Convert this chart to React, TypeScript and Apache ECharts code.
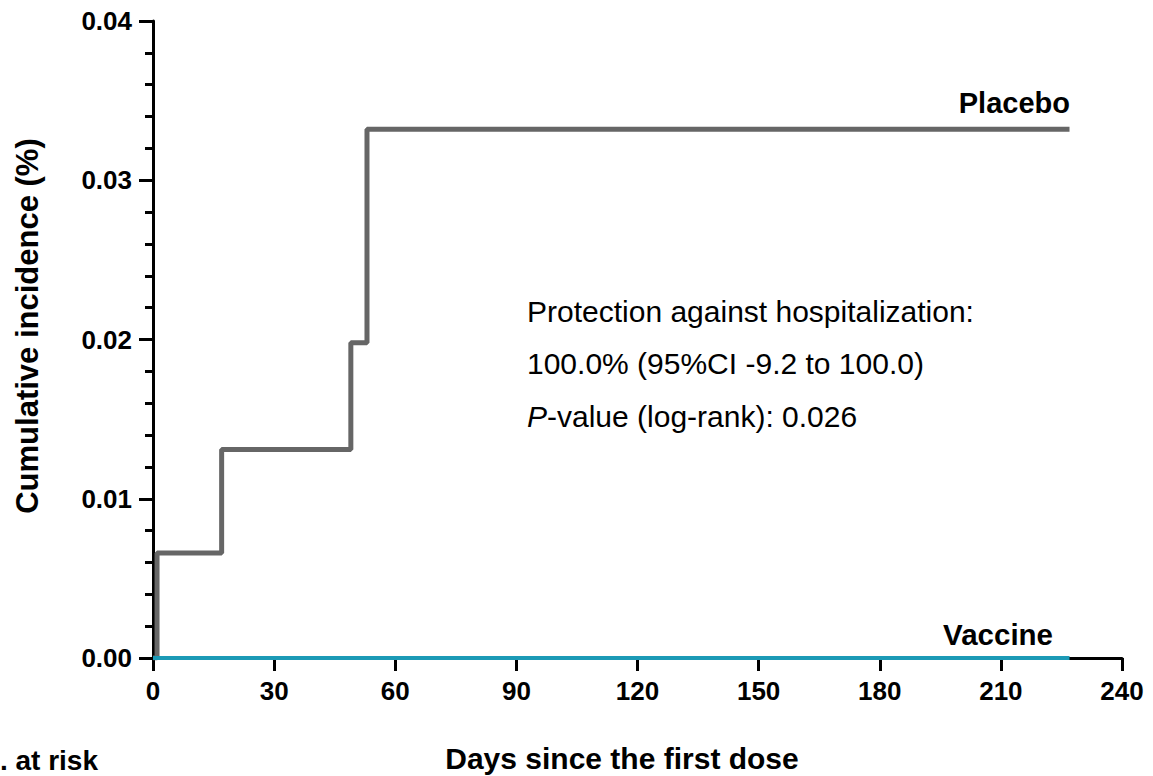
import React, { useEffect, useRef } from "react";
import * as echarts from "echarts";

// ---- data ----
const eventDays = [0, 1, 17, 49, 53, 227];
const placeboIncidence = [0, 0.0066, 0.0131, 0.0198, 0.0332, 0.0332];
const vaccineDays = [0, 227];
const vaccineIncidence = [0, 0];
const seriesNames = ["Placebo", "Vaccine"];
const xRange = { min: 0, max: 240, interval: 30 };
const yRange = { min: 0, max: 0.04, interval: 0.01 };
const annotationLines = [
  "Protection against hospitalization:",
  "100.0% (95%CI -9.2 to 100.0)",
  "{i|P}-value (log-rank): 0.026",
];
const xTitle = "Days since the first dose";
const yTitle = "Cumulative incidence (%)";
const riskLabel = "No. at risk";

const FONT = "'Liberation Sans', Arial, Helvetica, sans-serif";

export default function App() {
  const ref = useRef<HTMLDivElement>(null);
  useEffect(() => {
    if (!ref.current) return;
    const chart = echarts.init(ref.current, null, { renderer: "svg" });
    const placeboData = eventDays.map((d, i) => [d, placeboIncidence[i]]);
    const vaccineData = vaccineDays.map((d, i) => [d, vaccineIncidence[i]]);
    chart.setOption({
      animation: false,
      backgroundColor: "#ffffff",
      textStyle: { fontFamily: FONT },
      grid: { left: 153, right: 31, top: 21, bottom: 118, containLabel: false },
      xAxis: {
        type: "value",
        min: xRange.min,
        max: xRange.max,
        interval: xRange.interval,
        axisLine: { show: true, lineStyle: { color: "#000", width: 3 } },
        axisTick: { show: true, length: 13, lineStyle: { color: "#000", width: 3 } },
        axisLabel: {
          margin: 20,
          color: "#000",
          fontSize: 26,
          fontWeight: "bold",
          fontFamily: FONT,
        },
        splitLine: { show: false },
      },
      yAxis: {
        type: "value",
        min: yRange.min,
        max: yRange.max,
        interval: yRange.interval,
        axisLine: { show: true, lineStyle: { color: "#000", width: 3 } },
        axisTick: { show: true, length: 14, lineStyle: { color: "#000", width: 3 } },
        minorTick: { show: true, splitNumber: 5, length: 8, lineStyle: { color: "#000", width: 3 } },
        axisLabel: {
          margin: 21,
          color: "#000",
          fontSize: 26,
          fontWeight: "bold",
          fontFamily: FONT,
          formatter: (v: number) => v.toFixed(2),
        },
        splitLine: { show: false },
        minorSplitLine: { show: false },
      },
      series: [
        {
          name: seriesNames[0],
          type: "line",
          step: "end",
          data: placeboData,
          symbol: "none",
          lineStyle: { color: "#666666", width: 5 },
          z: 3,
        },
        {
          name: seriesNames[1],
          type: "line",
          data: vaccineData,
          symbol: "none",
          lineStyle: { color: "#1c9ab6", width: 4 },
          z: 4,
        },
      ],
      graphic: [
        {
          type: "text",
          left: 527,
          top: 285,
          style: {
            text: annotationLines.join("\n"),
            fontSize: 30,
            lineHeight: 52.5,
            fontFamily: FONT,
            fill: "#000",
            rich: {
              i: { fontStyle: "italic", fontSize: 30, fontFamily: FONT, fill: "#000", lineHeight: 52.5 },
            },
          },
        },
        {
          type: "text",
          x: 1070,
          y: 103,
          style: {
            text: seriesNames[0],
            fontSize: 29,
            fontWeight: "bold",
            fontFamily: FONT,
            fill: "#000",
            align: "right",
            verticalAlign: "middle",
          },
        },
        {
          type: "text",
          x: 1053,
          y: 634,
          style: {
            text: seriesNames[1],
            fontSize: 29.5,
            fontWeight: "bold",
            fontFamily: FONT,
            fill: "#000",
            align: "right",
            verticalAlign: "middle",
          },
        },
        {
          type: "text",
          x: 622,
          y: 758,
          style: {
            text: xTitle,
            fontSize: 30,
            fontWeight: "bold",
            fontFamily: FONT,
            fill: "#000",
            align: "center",
            verticalAlign: "middle",
          },
        },
        {
          type: "text",
          x: 27,
          y: 326,
          rotation: Math.PI / 2,
          style: {
            text: yTitle,
            fontSize: 31,
            fontWeight: "bold",
            fontFamily: FONT,
            fill: "#000",
            align: "center",
            verticalAlign: "middle",
          },
        },
        {
          type: "text",
          x: 98,
          y: 760,
          style: {
            text: riskLabel,
            fontSize: 28,
            fontWeight: "bold",
            fontFamily: FONT,
            fill: "#000",
            align: "right",
            verticalAlign: "middle",
          },
        },
      ],
    });
    return () => chart.dispose();
  }, []);
  return (
    <div
      ref={ref}
      style={{ position: "fixed", left: 0, top: 0, width: 1153, height: 776 }}
    />
  );
}
